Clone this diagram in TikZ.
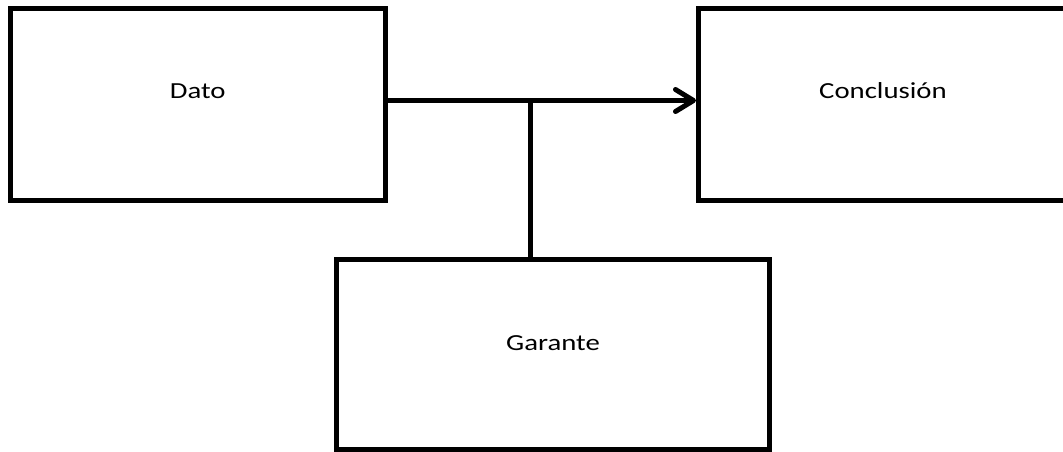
\documentclass[tikz,border=0pt]{standalone}
\usepackage{fontspec}
\setmainfont{Carlito}
\newfontfamily\lblfont[FakeStretch=1.25]{Carlito}
\usetikzlibrary{arrows.meta}

\tikzset{
	box/.style={draw, rectangle, line width=5pt, inner sep=0pt},
	lbl/.style={font=\lblfont\fontsize{23}{27}\selectfont, text height=16pt, text depth=0pt, inner sep=0pt},
	link/.style={line width=5pt},
}

\begin{document}
\begin{tikzpicture}[x=1pt,y=1pt,>={Straight Barb[length=18pt,width=22pt,round]}]
	\useasboundingbox (0,0) rectangle (1063,-451);
	\clip (0,0) rectangle (1063,-451);
	% boxes
	\node[box, minimum width=374.5pt, minimum height=191.5pt] (dato)    at (197.75,-104.25) {};
	\node[box, minimum width=369pt,   minimum height=191.5pt] (concl)   at (883,-104.25)    {};
	\node[box, minimum width=433pt,   minimum height=189.5pt] (garante) at (553,-354.25)    {};
	% texts
	\node[lbl] (datotxt)    at (197.75,-90) {Dato};
	\node[lbl] (concltxt)   at (883,-90)    {Conclusión};
	\node[lbl] (garantetxt) at (553,-342)   {Garante};
	% connectors
	\coordinate (split) at (530,-100.5);
	\draw[link, ->] (dato.east |- split) -- (concl.west |- split);
	\draw[link] (split) -- (split |- garante.north);
\end{tikzpicture}
\end{document}
